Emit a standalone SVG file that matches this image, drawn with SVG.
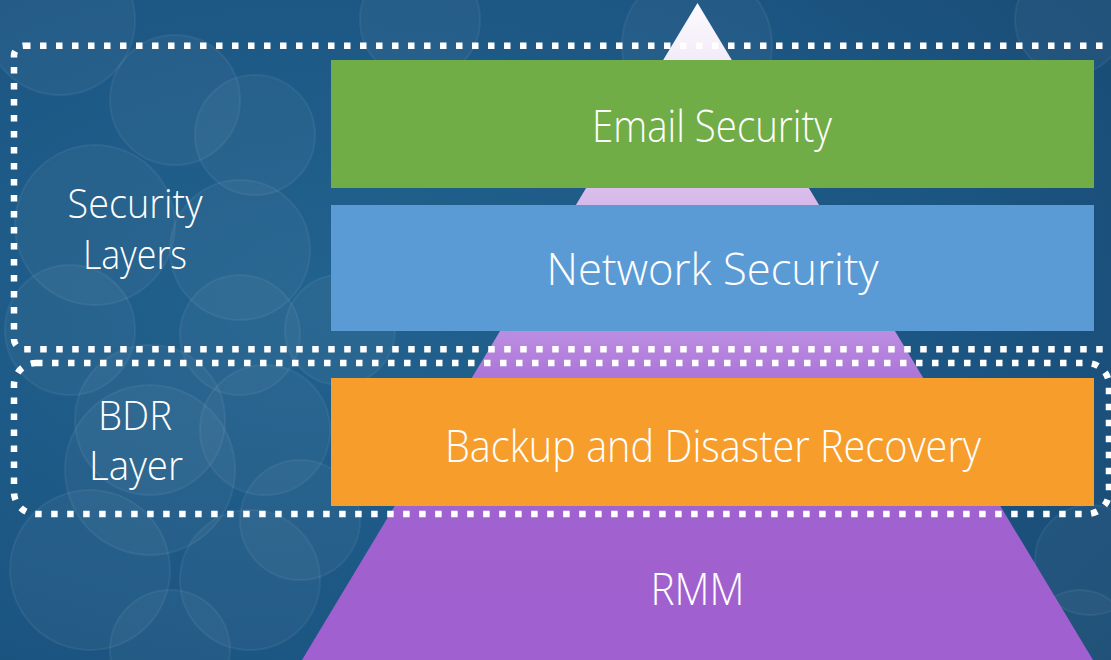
<svg xmlns="http://www.w3.org/2000/svg" width="1111" height="660" viewBox="0 0 1111 660">
  <defs>
    <radialGradient id="bg" cx="0.3" cy="0.45" r="0.9">
      <stop offset="0" stop-color="#22628e"/>
      <stop offset="0.6" stop-color="#1c5683"/>
      <stop offset="1" stop-color="#184a72"/>
    </radialGradient>
    <linearGradient id="pyr" gradientUnits="userSpaceOnUse" x1="0" y1="0" x2="0" y2="660">
      <stop offset="0" stop-color="#fdfbfe"/>
      <stop offset="0.1" stop-color="#f1eaf8"/>
      <stop offset="0.3" stop-color="#d8bbea"/>
      <stop offset="0.515" stop-color="#b98ae0"/>
      <stop offset="0.565" stop-color="#ad77d9"/>
      <stop offset="0.78" stop-color="#a062d0"/>
      <stop offset="1" stop-color="#a060cf"/>
    </linearGradient>
  </defs>
  <style>
    .bokeh { fill: #ffffff; fill-opacity: 0.04; stroke: #ffffff; stroke-opacity: 0.06; stroke-width: 2; }
    .bar-text { font-family: "Open Sans", "Liberation Sans", sans-serif; font-weight: 300; font-size: 45px; fill: #ffffff; text-anchor: middle; }
    .side-text { font-family: "Open Sans", "Liberation Sans", sans-serif; font-weight: 300; font-size: 40px; fill: #ffffff; text-anchor: middle; }
    .dots { fill: none; stroke: #ffffff; stroke-width: 6.5; stroke-dasharray: 6.5 9.5; }
  </style>

  <!-- background -->
  <rect x="0" y="0" width="1111" height="660" fill="url(#bg)"/>
  <g id="bokeh">
    <circle class="bokeh" cx="60" cy="20" r="75"/>
    <circle class="bokeh" cx="175" cy="100" r="65"/>
    <circle class="bokeh" cx="255" cy="135" r="60"/>
    <circle class="bokeh" cx="95" cy="225" r="80"/>
    <circle class="bokeh" cx="240" cy="250" r="70"/>
    <circle class="bokeh" cx="70" cy="330" r="65"/>
    <circle class="bokeh" cx="240" cy="335" r="60"/>
    <circle class="bokeh" cx="150" cy="420" r="75"/>
    <circle class="bokeh" cx="150" cy="470" r="85"/>
    <circle class="bokeh" cx="265" cy="430" r="65"/>
    <circle class="bokeh" cx="300" cy="520" r="60"/>
    <circle class="bokeh" cx="90" cy="570" r="80"/>
    <circle class="bokeh" cx="250" cy="580" r="70"/>
    <circle class="bokeh" cx="170" cy="650" r="60"/>
    <circle class="bokeh" cx="697" cy="45" r="75"/>
    <circle class="bokeh" cx="420" cy="20" r="60"/>
    <circle class="bokeh" cx="1070" cy="20" r="55"/>
    <circle class="bokeh" cx="1090" cy="560" r="55"/>
    <circle class="bokeh" cx="1080" cy="640" r="50"/>
    <circle class="bokeh" cx="340" cy="330" r="55"/>
  </g>

  <!-- pyramid -->
  <g id="pyramid">
    <polygon points="697.5,3 1093,660 302,660" fill="url(#pyr)"/>
  </g>

  <!-- bars -->
  <g id="email-security">
    <rect x="331" y="60" width="763" height="128" fill="#70ad47"/>
    <text class="bar-text" x="712" y="141.5" textLength="240" lengthAdjust="spacingAndGlyphs">Email Security</text>
  </g>
  <g id="network-security">
    <rect x="331" y="205" width="763" height="126" fill="#5b9bd5"/>
    <text class="bar-text" x="712.5" y="284.5" textLength="332" lengthAdjust="spacingAndGlyphs">Network Security</text>
  </g>
  <g id="backup-disaster-recovery">
    <rect x="331" y="378" width="763" height="128" fill="#f79d2b"/>
    <text class="bar-text" x="713" y="462" textLength="536" lengthAdjust="spacingAndGlyphs">Backup and Disaster Recovery</text>
  </g>
  <g id="rmm">
    <text class="bar-text" x="697.5" y="605" textLength="94" lengthAdjust="spacingAndGlyphs">RMM</text>
  </g>

  <!-- dotted groupings -->
  <g id="security-layers">
    <rect class="dots" x="14" y="45.7" width="1130" height="303.5" rx="10" ry="10"/>
    <text class="side-text" x="135" y="218" textLength="135" lengthAdjust="spacingAndGlyphs">Security</text>
    <text class="side-text" x="135" y="269" textLength="104" lengthAdjust="spacingAndGlyphs">Layers</text>
  </g>
  <g id="bdr-layer">
    <rect class="dots" x="14" y="363" width="1095" height="151" rx="22" ry="22"/>
    <text class="side-text" x="135" y="430" textLength="74" lengthAdjust="spacingAndGlyphs">BDR</text>
    <text class="side-text" x="136" y="480" textLength="94" lengthAdjust="spacingAndGlyphs">Layer</text>
  </g>
</svg>
